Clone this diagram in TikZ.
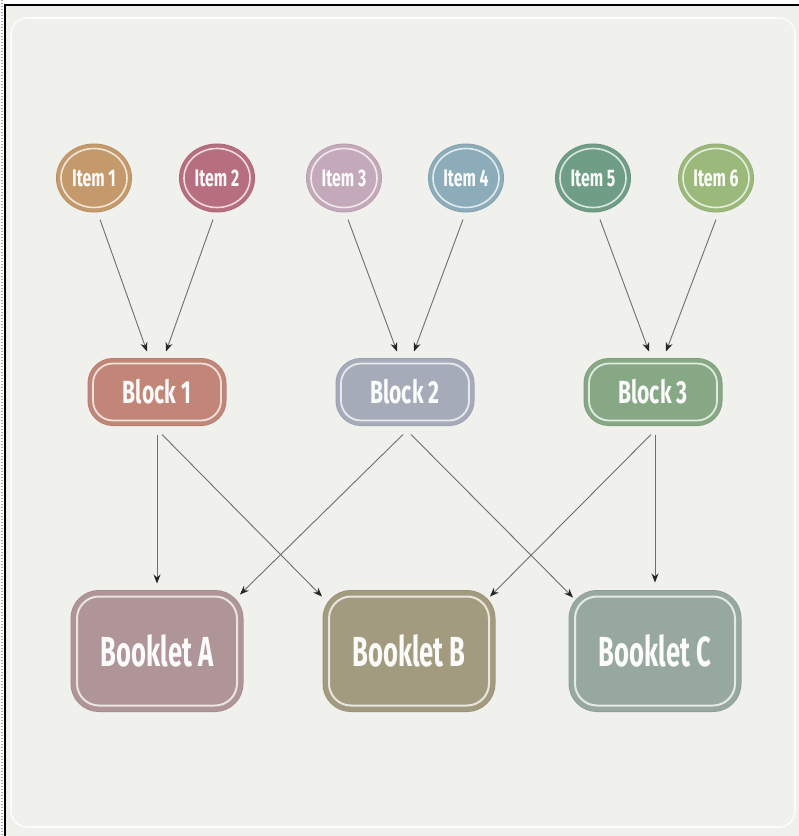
\documentclass[tikz,border=0pt]{standalone}
\usepackage{fontspec}
\newfontfamily\lblfont[FakeStretch=0.66]{Fira Sans}
\newfontfamily\bklfont[FakeStretch=0.61]{Fira Sans}
\usetikzlibrary{shapes.geometric,arrows.meta}
\definecolor{bg}{HTML}{F0F0EC}
\definecolor{ci1}{HTML}{C49A6C}
\definecolor{ci2}{HTML}{B76E7E}
\definecolor{ci3}{HTML}{C4A9BA}
\definecolor{ci4}{HTML}{8BACB8}
\definecolor{ci5}{HTML}{6F9D85}
\definecolor{ci6}{HTML}{9BB97A}
\definecolor{cb1}{HTML}{C18677}
\definecolor{cb2}{HTML}{A5ABB9}
\definecolor{cb3}{HTML}{87A884}
\definecolor{cbA}{HTML}{AF9597}
\definecolor{cbB}{HTML}{A39B7F}
\definecolor{cbC}{HTML}{97A99F}
\definecolor{linec}{HTML}{6E6E6E}
\tikzset{
  itemnode/.style={ellipse, minimum width=66pt, minimum height=59pt, inner sep=0pt, outer sep=0pt,
    preaction={draw=#1!93!black, line width=10pt},
    preaction={draw=#1, line width=8.5pt},
    fill=#1, draw=white!75!#1, line width=1.6pt, text=white!96!#1,
    font=\lblfont\bfseries\fontsize{24}{24}\selectfont},
  blocknode/.style={rectangle, rounded corners=20pt, minimum width=128pt, minimum height=57pt, inner sep=0pt, outer sep=0pt,
    preaction={draw=#1!93!black, line width=11pt},
    preaction={draw=#1, line width=9.5pt},
    fill=#1, draw=white!75!#1, line width=1.8pt, text=white!96!#1,
    font=\lblfont\bfseries\fontsize{32}{32}\selectfont},
  bookletnode/.style={rectangle, rounded corners=22pt, minimum width=160pt, minimum height=109pt, inner sep=0pt, outer sep=0pt,
    preaction={draw=#1!93!black, line width=13pt},
    preaction={draw=#1, line width=11.5pt},
    fill=#1, draw=white!75!#1, line width=2pt, text=white!96!#1,
    font=\bklfont\bfseries\fontsize{42}{42}\selectfont},
  conn/.style={draw=linec, line width=0.9pt, -{Stealth[length=9pt,width=7pt,color=black!85]}}
}
\begin{document}
\begin{tikzpicture}[x=1pt,y=-1pt]
\useasboundingbox (0,0) rectangle (799,836);
% frame and background
\fill[white] (0,0) rectangle (799,836);
\fill[bg] (5,5) rectangle (799,836);
\draw[gray!70, line width=1.5pt, dash pattern=on 1pt off 2pt] (2,0) -- (2,836);
\draw[black, line width=1.4pt] (5,836) -- (5,5) -- (799,5);
\draw[white, opacity=0.8, line width=1.6pt, rounded corners=16pt] (11,18) rectangle (795,827);

% items
\node[itemnode=ci1] (i1) at (94,178) {Item 1};
\node[itemnode=ci2] (i2) at (217,178) {Item 2};
\node[itemnode=ci3] (i3) at (344,178) {Item 3};
\node[itemnode=ci4] (i4) at (466,178) {Item 4};
\node[itemnode=ci5] (i5) at (593,178) {Item 5};
\node[itemnode=ci6] (i6) at (716,178) {Item 6};

% blocks
\node[blocknode=cb1] (b1) at (157,392) {Block 1};
\node[blocknode=cb2] (b2) at (405,392) {Block 2};
\node[blocknode=cb3] (b3) at (653,392) {Block 3};

% booklets
\node[bookletnode=cbA] (bA) at (157,651) {Booklet A};
\node[bookletnode=cbB] (bB) at (409,651) {Booklet B};
\node[bookletnode=cbC] (bC) at (655,651) {Booklet C};

% item -> block
\draw[conn] ([xshift=6pt,yshift=-12pt]i1.south) -- ([xshift=-10pt,yshift=12pt]b1.north);
\draw[conn] ([xshift=-4pt,yshift=-12pt]i2.south) -- ([xshift=9pt,yshift=12pt]b1.north);
\draw[conn] ([xshift=4pt,yshift=-12pt]i3.south) -- ([xshift=-8pt,yshift=12pt]b2.north);
\draw[conn] ([xshift=-3pt,yshift=-12pt]i4.south) -- ([xshift=9pt,yshift=12pt]b2.north);
\draw[conn] ([xshift=7pt,yshift=-12pt]i5.south) -- ([xshift=-4pt,yshift=12pt]b3.north);
\draw[conn] ([xshift=0pt,yshift=-12pt]i6.south) -- ([xshift=13pt,yshift=12pt]b3.north);

% block -> booklet
\draw[conn] ([xshift=0pt,yshift=-14pt]b1.south) -- ([yshift=13pt]bA.north);
\draw[conn] ([xshift=5pt,yshift=-14pt]b1.south) -- ([xshift=-7pt,yshift=0pt]bB.north west);
\draw[conn] ([xshift=-2pt,yshift=-14pt]b2.south) -- ([xshift=3pt,yshift=2pt]bA.north east);
\draw[conn] ([xshift=6pt,yshift=-14pt]b2.south) -- ([xshift=-2pt,yshift=-1pt]bC.north west);
\draw[conn] ([xshift=-2pt,yshift=-14pt]b3.south) -- ([xshift=1pt,yshift=0pt]bB.north east);
\draw[conn] ([xshift=2pt,yshift=-14pt]b3.south) -- ([yshift=14pt]bC.north);
\end{tikzpicture}
\end{document}
